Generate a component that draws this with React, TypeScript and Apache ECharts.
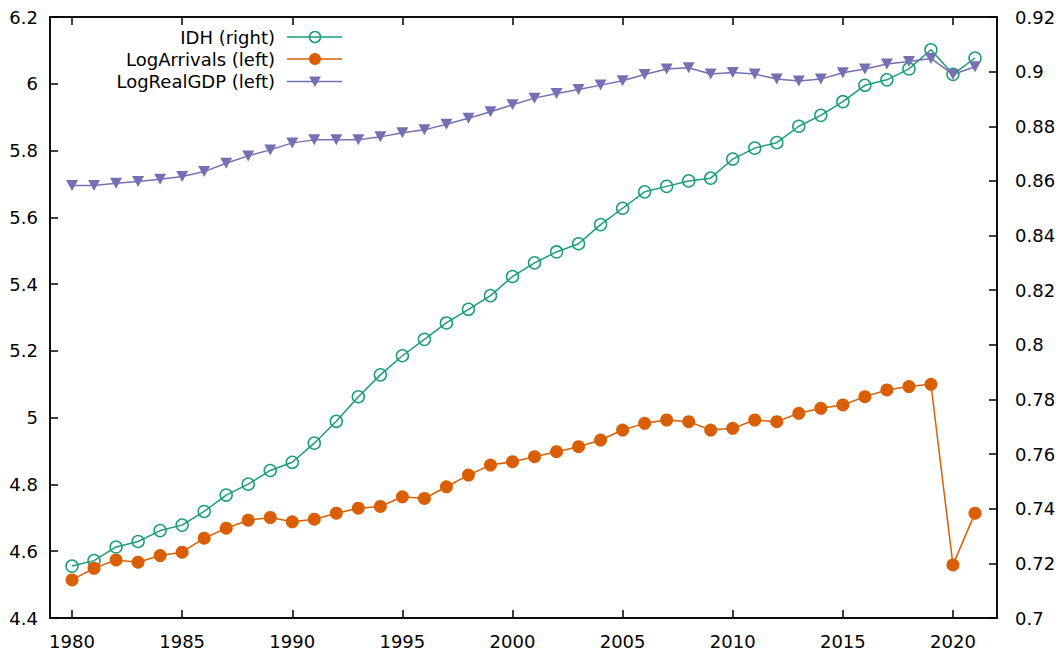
import React, { useEffect, useRef } from "react";
import * as echarts from "echarts";

// Annual series, 1980–2021
const years: number[] = [
  1980, 1981, 1982, 1983, 1984, 1985, 1986, 1987, 1988, 1989,
  1990, 1991, 1992, 1993, 1994, 1995, 1996, 1997, 1998, 1999,
  2000, 2001, 2002, 2003, 2004, 2005, 2006, 2007, 2008, 2009,
  2010, 2011, 2012, 2013, 2014, 2015, 2016, 2017, 2018, 2019,
  2020, 2021,
];

// Human development index (right axis)
const idh: number[] = [
  0.719, 0.721, 0.726, 0.728, 0.732, 0.734, 0.739, 0.745, 0.749, 0.754,
  0.757, 0.764, 0.772, 0.781, 0.789, 0.796, 0.802, 0.808, 0.813, 0.818,
  0.825, 0.830, 0.834, 0.837, 0.844, 0.850, 0.856, 0.858, 0.860, 0.861,
  0.868, 0.872, 0.874, 0.880, 0.884, 0.889, 0.895, 0.897, 0.901, 0.908,
  0.899, 0.905,
];

// Log of tourist arrivals (left axis)
const logArrivals: number[] = [
  4.514, 4.549, 4.574, 4.567, 4.587, 4.597, 4.639, 4.669, 4.693, 4.701,
  4.688, 4.696, 4.714, 4.729, 4.734, 4.763, 4.758, 4.793, 4.828, 4.858,
  4.868, 4.883, 4.898, 4.913, 4.933, 4.963, 4.983, 4.993, 4.988, 4.963,
  4.968, 4.993, 4.988, 5.013, 5.028, 5.038, 5.063, 5.083, 5.093, 5.1,
  4.559, 4.714,
];

// Log of real GDP (left axis)
const logRealGDP: number[] = [
  5.695, 5.695, 5.702, 5.707, 5.714, 5.722, 5.737, 5.762, 5.784, 5.802,
  5.823, 5.832, 5.832, 5.832, 5.841, 5.853, 5.862, 5.879, 5.897, 5.916,
  5.937, 5.957, 5.971, 5.983, 5.996, 6.009, 6.028, 6.044, 6.048, 6.029,
  6.034, 6.029, 6.014, 6.008, 6.014, 6.033, 6.044, 6.059, 6.067, 6.076,
  6.028, 6.051,
];

const xTicks: number[] = [1980, 1985, 1990, 1995, 2000, 2005, 2010, 2015, 2020];

const seriesNames: string[] = ["IDH (right)", "LogArrivals (left)", "LogRealGDP (left)"];

const GREEN = "#1b9e77";
const ORANGE = "#d95f02";
const PURPLE = "#7570b3";
const FONT = "DejaVu Sans";
const FS = 18;

export default function App() {
  const ref = useRef<HTMLDivElement>(null);

  useEffect(() => {
    if (!ref.current) return;
    const chart = echarts.init(ref.current, undefined, { renderer: "svg" });

    const pairs = (vals: number[]) => years.map((y, i) => [y, vals[i]]);

    const axisLine = { show: true, lineStyle: { color: "#000", width: 1.5 } };
    const tickStyle = { color: "#000", width: 1.5 };
    const labelStyle = { color: "#000", fontSize: FS, fontFamily: FONT };

    // Legend drawn by hand: right-aligned text, then a line sample with its marker
    const legendRows = [37, 59, 81.5];
    const textRight = 275;
    const lx1 = 287;
    const lx2 = 342;
    const lxm = 315;
    const legend: any[] = [];
    seriesNames.forEach((name, i) => {
      const y = legendRows[i];
      const col = [GREEN, ORANGE, PURPLE][i];
      legend.push({
        type: "text",
        x: textRight,
        y,
        style: {
          text: name,
          align: "right",
          verticalAlign: "middle",
          fill: "#000",
          fontSize: FS,
          fontFamily: FONT,
        },
      });
      legend.push({
        type: "line",
        shape: { x1: lx1, y1: y, x2: lx2, y2: y },
        style: { stroke: col, lineWidth: 1.5 },
      });
    });
    legend.push({
      type: "circle",
      shape: { cx: lxm, cy: legendRows[0], r: 5.5 },
      style: { fill: "none", stroke: GREEN, lineWidth: 1.5 },
    });
    legend.push({
      type: "circle",
      shape: { cx: lxm, cy: legendRows[1], r: 6 },
      style: { fill: ORANGE },
    });
    legend.push({
      type: "polygon",
      shape: {
        points: [
          [lxm - 6, legendRows[2] - 5],
          [lxm + 6, legendRows[2] - 5],
          [lxm, legendRows[2] + 5.5],
        ],
      },
      style: { fill: PURPLE },
    });

    chart.setOption({
      animation: false,
      backgroundColor: "#fff",
      textStyle: { fontFamily: FONT },
      grid: {
        left: 50,
        right: 62,
        top: 17,
        bottom: 33,
        show: true,
        borderColor: "#000",
        borderWidth: 1.5,
        backgroundColor: "transparent",
      },
      xAxis: [
        {
          type: "value",
          min: 1979,
          max: 2022,
          position: "bottom",
          axisLine,
          axisTick: { show: true, inside: true, length: 8, customValues: xTicks, lineStyle: tickStyle },
          axisLabel: {
            ...labelStyle,
            margin: 14,
            customValues: xTicks,
            formatter: (v: number) => String(v),
          },
          splitLine: { show: false },
        },
        {
          type: "value",
          min: 1979,
          max: 2022,
          position: "top",
          axisLine,
          axisTick: { show: true, inside: true, length: 8, customValues: xTicks, lineStyle: tickStyle },
          axisLabel: { show: false, customValues: xTicks },
          splitLine: { show: false },
        },
      ],
      yAxis: [
        {
          type: "value",
          min: 4.4,
          max: 6.2,
          interval: 0.2,
          position: "left",
          axisLine,
          axisTick: { show: true, inside: true, length: 8, lineStyle: tickStyle },
          axisLabel: { ...labelStyle, margin: 12 },
          splitLine: { show: false },
        },
        {
          type: "value",
          min: 0.7,
          max: 0.92,
          interval: 0.02,
          position: "right",
          axisLine,
          axisTick: { show: true, inside: true, length: 8, lineStyle: tickStyle },
          axisLabel: { ...labelStyle, margin: 18 },
          splitLine: { show: false },
        },
      ],
      series: [
        {
          name: seriesNames[0],
          type: "line",
          xAxisIndex: 0,
          yAxisIndex: 1,
          data: pairs(idh),
          symbol: "circle",
          symbolSize: 12,
          showAllSymbol: true,
          lineStyle: { color: GREEN, width: 1.5 },
          itemStyle: { color: "rgba(0,0,0,0)", borderColor: GREEN, borderWidth: 1.5 },
        },
        {
          name: seriesNames[1],
          type: "line",
          xAxisIndex: 0,
          yAxisIndex: 0,
          data: pairs(logArrivals),
          symbol: "circle",
          symbolSize: 13,
          showAllSymbol: true,
          lineStyle: { color: ORANGE, width: 1.5 },
          itemStyle: { color: ORANGE },
        },
        {
          name: seriesNames[2],
          type: "line",
          xAxisIndex: 0,
          yAxisIndex: 0,
          data: pairs(logRealGDP),
          symbol: "triangle",
          symbolRotate: 180,
          symbolSize: [12, 11],
          showAllSymbol: true,
          lineStyle: { color: PURPLE, width: 1.5 },
          itemStyle: { color: PURPLE },
        },
      ],
      graphic: legend,
    });

    return () => chart.dispose();
  }, []);

  return (
    <div
      ref={ref}
      style={{ position: "absolute", left: 0, top: 0, width: 1059, height: 651 }}
    />
  );
}
